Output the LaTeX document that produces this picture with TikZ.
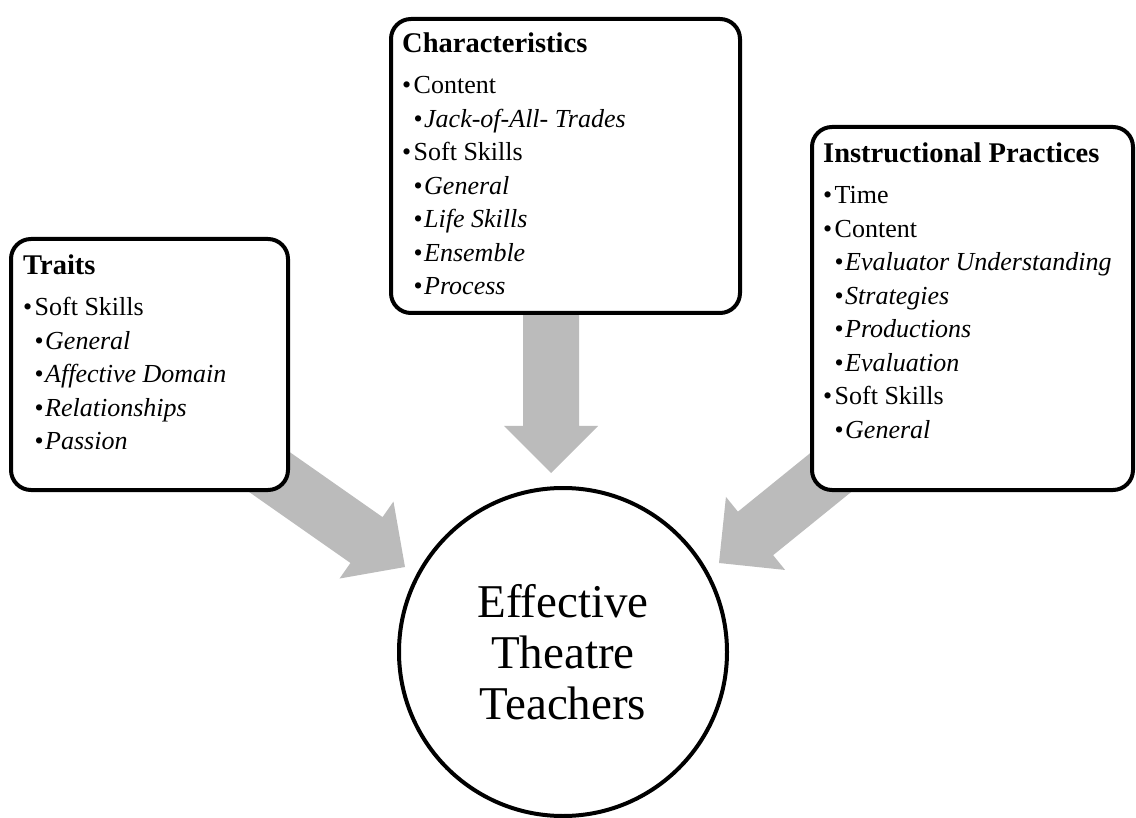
\documentclass[tikz,border=0pt]{standalone}
\usepackage{fontspec}
\setmainfont{Liberation Serif}
\definecolor{arrowgray}{RGB}{187,187,187}
\newcommand\lvA[1]{\makebox[11.5pt][l]{•}#1\par}
\newcommand\lvB[1]{\hspace*{11.5pt}\makebox[10.5pt][l]{•}\textit{#1}\par}
\newcommand\boxtext[2]{\parbox[t]{320pt}{\fontsize{26}{33.5}\selectfont{\fontsize{28.5}{33.5}\selectfont\bfseries #1\par}\vspace{7.5pt}#2}}
\newcommand\blockarrowat[3]{%
  \begin{scope}[shift={(#1)}, rotate=#2]
    \fill[blockarrow] (0,0) -- (-47,47) -- (-47,28) -- (-#3,28) -- (-#3,-28) -- (-47,-28) -- (-47,-47) -- cycle;
  \end{scope}}
\tikzset{
  card/.style={draw, line width=4pt, rounded corners=20pt, fill=white, inner sep=0pt, anchor=north west},
  blockarrow/.style={fill=arrowgray, draw=none},
  listtext/.style={inner sep=0pt, anchor=base west},
  hub/.style={circle, draw, line width=4pt, fill=white, minimum size=328pt, inner sep=0pt, align=center, font=\fontsize{47}{51}\selectfont}
}
\begin{document}
\begin{tikzpicture}[x=1pt,y=-1pt]
\useasboundingbox (0,0) rectangle (1136,818);
% arrow tips
\coordinate (tipL) at (405,567);
\coordinate (tipM) at (551,473);
\coordinate (tipR) at (719,563);
\blockarrowat{tipL}{-35}{180}
\blockarrowat{tipM}{-90}{180}
\blockarrowat{tipR}{219}{180}
% boxes
\node[card, minimum width=277pt, minimum height=251pt] (traits) at (9,237) {};
\node[card, minimum width=349pt, minimum height=294pt] (chars) at (389,17) {};
\node[card, minimum width=321pt, minimum height=363pt] (instr) at (810,125) {};
\node[listtext] (traitsText) at (23,275) {\boxtext{Traits}{%
  \lvA{Soft Skills}
  \lvB{General}
  \lvB{Affective Domain}
  \lvB{Relationships}
  \lvB{Passion}}};
\node[listtext] (charsText) at (402,53) {\boxtext{Characteristics}{%
  \lvA{Content}
  \lvB{Jack-of-All- Trades}
  \lvA{Soft Skills}
  \lvB{General}
  \lvB{Life Skills}
  \lvB{Ensemble}
  \lvB{Process}}};
\node[listtext] (instrText) at (823,163) {\boxtext{Instructional Practices}{%
  \lvA{Time}
  \lvA{Content}
  \lvB{Evaluator Understanding}
  \lvB{Strategies}
  \lvB{Productions}
  \lvB{Evaluation}
  \lvA{Soft Skills}
  \lvB{General}}};
% centre
\node[hub] (core) at (563,652) {Effective\\Theatre\\Teachers};
\end{tikzpicture}
\end{document}
